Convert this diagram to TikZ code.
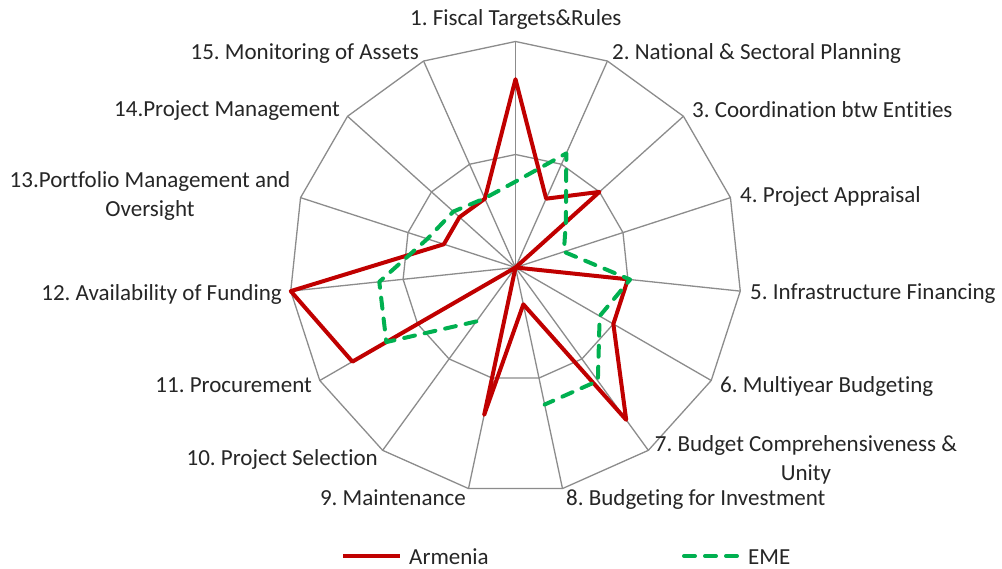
\documentclass[tikz,border=0pt]{standalone}
\usepackage{fontspec}
\setmainfont{Carlito}[Ligatures=NoCommon]
\frenchspacing
\definecolor{armred}{RGB}{192,0,0}
\definecolor{emegreen}{RGB}{0,176,80}
\definecolor{gridgray}{RGB}{140,140,140}
\definecolor{txt}{RGB}{38,38,38}
\begin{document}
\begin{tikzpicture}[x=1pt,y=-1pt,
  grid/.style={draw=gridgray,line width=1.3pt,line join=round},
  armline/.style={draw=armred,line width=4pt,line join=round,line cap=round},
  emeline/.style={draw=emegreen,line width=4pt,line join=round,line cap=round,dash pattern=on 11pt off 10pt},
  lbl/.style={text=txt,inner sep=0pt,font=\fontsize{23}{29}\selectfont\frenchspacing}]
\useasboundingbox (0,0) rectangle (1002,569);
\fill[white] (0,0) rectangle (1002,569);
\coordinate (O) at (515.5,267.5);
% axes and rings
\foreach \k in {0,...,14}{
  \coordinate (o\k) at ({515.5+226*cos(90-24*\k)},{267.5-226*sin(90-24*\k)});
  \coordinate (i\k) at ({515.5+113*cos(90-24*\k)},{267.5-113*sin(90-24*\k)});
}
\foreach \k in {0,...,14}{\draw[grid] (O) -- (o\k);}
\draw[grid] (o0) \foreach \k in {1,...,14}{ -- (o\k)} -- cycle;
\draw[grid] (i0) \foreach \k in {1,...,14}{ -- (i\k)} -- cycle;
% Armenia
\foreach \v [count=\k from 0] in {0.8333,0.3333,0.5,0,0.5,0.5,0.8333,0.1667,0.6667,0,0.8333,1.0,0.3333,0.3333,0.3333}{
  \coordinate (a\k) at ({515.5+226*\v*cos(90-24*\k)},{267.5-226*\v*sin(90-24*\k)});
}
\draw[armline] (a0) \foreach \k in {1,...,14}{ -- (a\k)} -- cycle;
% EME (no value for 9)
\foreach \v [count=\k from 0] in {0.38,0.553,0.30,0.225,0.51,0.43,0.62,0.62,0,0.295,0.66,0.606,0.41,0.37,0.335}{
  \coordinate (e\k) at ({515.5+226*\v*cos(90-24*\k)},{267.5-226*\v*sin(90-24*\k)});
}
\draw[emeline] (e9) -- (e10) -- (e11) -- (e12) -- (e13) -- (e14) -- (e0) -- (e1) -- (e2) -- (e3) -- (e4) -- (e5) -- (e6) -- (e7);
% labels
\node[lbl,anchor=base west] (l1) at (410,26) {1. Fiscal Targets\&Rules};
\node[lbl,anchor=base west] (l2) at (612,60) {2. National \& Sectoral Planning};
\node[lbl,anchor=base west] (l3) at (692,118) {3. Coordination btw Entities};
\node[lbl,anchor=base west] (l4) at (740,203) {4. Project Appraisal};
\node[lbl,anchor=base west] (l5) at (750,300) {5. Infrastructure Financing};
\node[lbl,anchor=base west] (l6) at (720,393) {6. Multiyear Budgeting};
\node[lbl,anchor=base] (l7a) at (806,451) {7. Budget Comprehensiveness \&};
\node[lbl,anchor=base] (l7b) at (806,480) {Unity};
\node[lbl,anchor=base west] (l8) at (566,505) {8. Budgeting for Investment};
\node[lbl,anchor=base east] (l9) at (466,505) {9. Maintenance};
\node[lbl,anchor=base east] (l10) at (378,465) {10. Project Selection};
\node[lbl,anchor=base east] (l11) at (312,393) {11. Procurement};
\node[lbl,anchor=base east] (l12) at (282,301) {12. Availability of Funding};
\node[lbl,anchor=base] (l13a) at (150,188) {13.Portfolio Management and};
\node[lbl,anchor=base] (l13b) at (150,217) {Oversight};
\node[lbl,anchor=base east] (l14) at (340,117) {14.Project Management};
\node[lbl,anchor=base east] (l15) at (419,60) {15. Monitoring of Assets};
% legend
\coordinate (ra) at (343,556);
\coordinate (rb) at (400,556);
\draw[armline,line cap=butt] (ra) -- (rb);
\node[lbl,anchor=base west] (larm) at (409,564) {Armenia};
\coordinate (ga) at (684,556);
\coordinate (gb) at (742,556);
\draw[emeline] (ga) -- (gb);
\node[lbl,anchor=base west] (leme) at (748,564) {EME};
\end{tikzpicture}
\end{document}
